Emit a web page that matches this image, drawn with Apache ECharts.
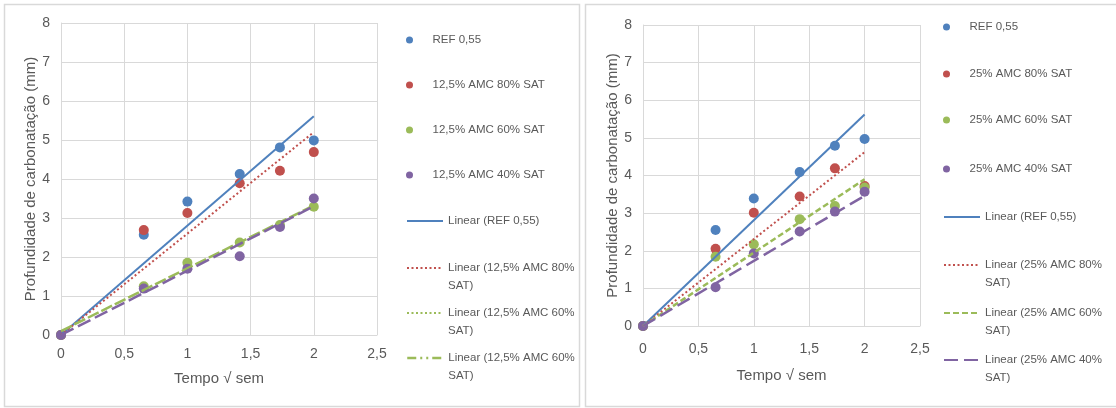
<!DOCTYPE html>
<html>
<head>
<meta charset="utf-8">
<script src="https://cdn.jsdelivr.net/npm/echarts@6/dist/echarts.min.js"></script>
<style>
html,body{margin:0;padding:0;background:#fff;}
#c{width:1116px;height:408px;}
</style>
</head>
<body>
<div id="c"></div>
<script>
// ---- data ----
const xVals = [0, 0.655, 1, 1.414, 1.732, 2];
const xTicks = [0, 0.5, 1, 1.5, 2, 2.5];
const yTicks = [0, 1, 2, 3, 4, 5, 6, 7, 8];

// left chart (12,5% AMC)
const leftNames = ['REF 0,55', '12,5% AMC 80% SAT', '12,5% AMC 60% SAT', '12,5% AMC 40% SAT'];
const leftRef = [0, 2.57, 3.42, 4.13, 4.81, 4.99];
const left80  = [0, 2.69, 3.13, 3.89, 4.21, 4.69];
const left60  = [0, 1.25, 1.85, 2.37, 2.82, 3.29];
const left40  = [0, 1.19, 1.70, 2.02, 2.77, 3.50];
// trend line values at x = 0 and x = 2
const trendX = [0, 2];
const leftTrendRef = [0, 5.61];
const leftTrend80  = [0, 5.2];
const leftTrend60  = [0.1, 3.32];
const leftTrend40  = [0, 3.3];
const leftTrendLabels = ['Linear (REF 0,55)', 'Linear (12,5% AMC 80%\nSAT)', 'Linear (12,5% AMC 60%\nSAT)', 'Linear (12,5% AMC 60%\nSAT)'];

// right chart (25% AMC)
const rightNames = ['REF 0,55', '25% AMC 80% SAT', '25% AMC 60% SAT', '25% AMC 40% SAT'];
const rightRef = [0, 2.55, 3.39, 4.09, 4.79, 4.97];
const right80  = [0, 2.05, 3.01, 3.44, 4.19, 3.72];
const right60  = [0, 1.84, 2.17, 2.84, 3.19, 3.68];
const right40  = [0, 1.03, 1.93, 2.51, 3.04, 3.57];
const rightTrendRef = [0, 5.62];
const rightTrend80  = [0, 4.62];
const rightTrend60  = [0, 3.9];
const rightTrend40  = [0, 3.46];
const rightTrendLabels = ['Linear (REF 0,55)', 'Linear (25% AMC 80%\nSAT)', 'Linear (25% AMC 60%\nSAT)', 'Linear (25% AMC 40%\nSAT)'];

const yName = 'Profundidade de carbonatação (mm)';
const xName = 'Tempo √ sem';

// ---- styling ----
const FONT = '"Liberation Sans", sans-serif';
const TXT = '#595959';
const GRIDC = '#d9d9d9';
const colors = ['#4F81BD', '#C0504D', '#9BBB59', '#8064A2'];

const pts = v => xVals.map((x, i) => [x, v[i]]);
const tr = v => trendX.map((x, i) => [x, v[i]]);

function axisPair(gi, nameGapY, nameGapX, xMargin) {
  return {
    x: {
      type: 'value', gridIndex: gi, min: xTicks[0], max: xTicks[xTicks.length - 1], interval: 0.5,
      name: xName, nameLocation: 'middle', nameGap: nameGapX,
      nameTextStyle: {color: TXT, fontFamily: FONT, fontSize: 15},
      axisLine: {show: true, lineStyle: {color: GRIDC, width: 1}},
      axisTick: {show: false},
      splitLine: {show: true, lineStyle: {color: GRIDC, width: 1}},
      axisLabel: {color: TXT, fontFamily: FONT, fontSize: 14, margin: xMargin,
        formatter: v => String(v).replace('.', ',')}
    },
    y: {
      type: 'value', gridIndex: gi, min: yTicks[0], max: yTicks[yTicks.length - 1], interval: 1,
      name: yName, nameLocation: 'middle', nameGap: nameGapY, nameRotate: 90,
      nameTextStyle: {color: TXT, fontFamily: FONT, fontSize: 15},
      axisLine: {show: true, lineStyle: {color: GRIDC, width: 1}},
      axisTick: {show: false},
      splitLine: {show: true, lineStyle: {color: GRIDC, width: 1}},
      axisLabel: {color: TXT, fontFamily: FONT, fontSize: 14, margin: 11}
    }
  };
}

const la = axisPair(0, 22, 36, 12);
const ra = axisPair(1, 22, 42, 16);

const series = [];
function addScatter(name, data, color, gi) {
  series.push({name, type: 'scatter', xAxisIndex: gi, yAxisIndex: gi, data: pts(data),
    symbol: 'circle', symbolSize: 10, itemStyle: {color, opacity: 1}, z: 2});
}
function addTrend(name, data, color, type, width, gi) {
  series.push({name, type: 'line', xAxisIndex: gi, yAxisIndex: gi, data: tr(data),
    symbol: 'none', showSymbol: false, silent: true,
    lineStyle: {color, type, width}, itemStyle: {color}, z: 3});
}

// left
addScatter(leftNames[0], leftRef, colors[0], 0);
addScatter(leftNames[1], left80, colors[1], 0);
addScatter(leftNames[2], left60, colors[2], 0);
addScatter(leftNames[3], left40, colors[3], 0);
addTrend('L Linear REF', leftTrendRef, colors[0], 'solid', 2, 0);
addTrend('L Linear 80', leftTrend80, colors[1], [2, 2.5], 2, 0);
addTrend('L Linear 60', leftTrend60, colors[2], [12, 3], 2.5, 0);
addTrend('L Linear 40', leftTrend40, colors[3], [14, 5], 2.5, 0);
// right
addScatter('R ' + rightNames[0], rightRef, colors[0], 1);
addScatter('R ' + rightNames[1], right80, colors[1], 1);
addScatter('R ' + rightNames[2], right60, colors[2], 1);
addScatter('R ' + rightNames[3], right40, colors[3], 1);
addTrend('R Linear REF', rightTrendRef, colors[0], 'solid', 2, 1);
addTrend('R Linear 80', rightTrend80, colors[1], [2, 2.5], 2, 1);
addTrend('R Linear 60', rightTrend60, colors[2], [6, 3], 2.5, 1);
addTrend('R Linear 40', rightTrend40, colors[3], [14, 6], 2.5, 1);

// legends: one component per entry so each row sits where it does in the reference
const LH = 18;
const legends = [];
function addLegend(seriesName, label, left, centerY, isLine, lineOverride) {
  const twoLines = label.indexOf('\n') >= 0;
  const ts = {color: TXT, fontFamily: FONT, fontSize: 11.5, lineHeight: LH};
  // a blank first line keeps the icon level with the first text line
  const shown = twoLines ? '\n' + label : label;
  const h = twoLines ? 3 * LH : LH;
  const item = {name: seriesName};
  if (!isLine) item.icon = 'circle';
  const lg = {
    show: true, left, top: centerY + 1 - h / 2, padding: 0, orient: 'vertical',
    itemWidth: 36, itemHeight: isLine ? 10 : 7,
    data: [item],
    formatter: () => shown, textStyle: ts, selectedMode: false
  };
  if (isLine) lg.itemStyle = {opacity: 0, borderWidth: 0};
  if (lineOverride) lg.lineStyle = lineOverride;
  legends.push(lg);
}
const leftRows = [39, 84, 129, 174, 220, 267, 312, 357];
const rightRows = [26, 73, 119, 168, 216, 264, 312, 359];
for (let i = 0; i < 4; i++) addLegend(series[i].name, leftNames[i], 406, leftRows[i], false);
addLegend('L Linear REF', leftTrendLabels[0], 406, leftRows[4], true);
addLegend('L Linear 80', leftTrendLabels[1], 406, leftRows[5], true);
addLegend('L Linear 60', leftTrendLabels[2], 406, leftRows[6], true, {type: [2, 2.5], width: 2});
addLegend('L Linear 40', leftTrendLabels[3], 406, leftRows[7], true, {color: colors[2], type: [9, 4, 2, 4, 2, 4], width: 2.5});
for (let i = 0; i < 4; i++) addLegend(series[8 + i].name, rightNames[i], 943, rightRows[i], false);
addLegend('R Linear REF', rightTrendLabels[0], 943, rightRows[4], true);
addLegend('R Linear 80', rightTrendLabels[1], 943, rightRows[5], true);
addLegend('R Linear 60', rightTrendLabels[2], 943, rightRows[6], true);
addLegend('R Linear 40', rightTrendLabels[3], 943, rightRows[7], true);

const chart = echarts.init(document.getElementById('c'), null, {renderer: 'canvas'});
chart.setOption({
  backgroundColor: '#ffffff',
  animation: false,
  graphic: [
    {type: 'rect', shape: {x: 4.5, y: 4.5, width: 575, height: 402}, style: {fill: 'none', stroke: GRIDC, lineWidth: 1.5}, silent: true, z: -1},
    {type: 'rect', shape: {x: 585.5, y: 4.5, width: 560, height: 402}, style: {fill: 'none', stroke: GRIDC, lineWidth: 1.5}, silent: true, z: -1}
  ],
  grid: [
    {left: 61, top: 23, width: 316, height: 312},
    {left: 643, top: 25, width: 277, height: 301}
  ],
  xAxis: [la.x, ra.x],
  yAxis: [la.y, ra.y],
  legend: legends,
  series
});
</script>
</body>
</html>
